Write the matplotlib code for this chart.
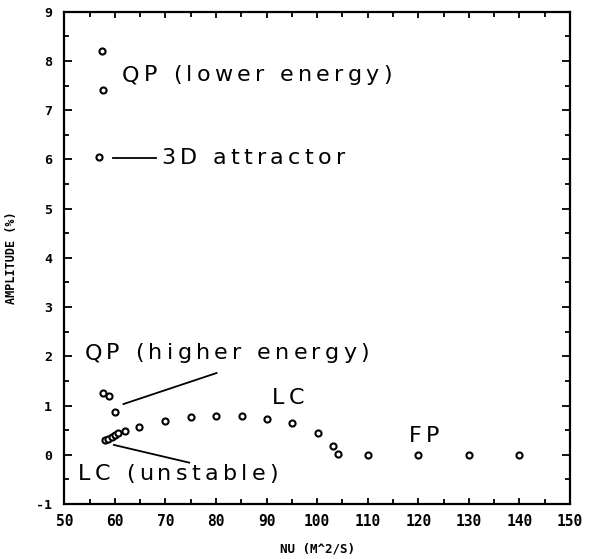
import matplotlib
matplotlib.use("Agg")
import matplotlib.pyplot as plt
from matplotlib.ticker import MultipleLocator
from matplotlib.transforms import offset_copy
from matplotlib.font_manager import FontProperties, findfont, get_font

# Quasi-periodic branch (lower energy) and the 3D attractor point
qp_low_nu = [57.4, 57.6]
qp_low_amp = [8.21, 7.41]
attr_nu = [56.9]
attr_amp = [6.05]

# Quasi-periodic branch (higher energy)
qp_high_nu = [57.7, 58.9, 60.0]
qp_high_amp = [1.25, 1.19, 0.86]

# Limit cycle branch (unstable part, then stable part)
lc_unst_nu = [58.0, 58.7, 59.4, 60.0, 60.6]
lc_unst_amp = [0.30, 0.32, 0.36, 0.40, 0.44]
lc_nu = [62.0, 64.8, 70.0, 75.0, 80.0, 85.1, 90.0, 95.0, 100.1, 103.2]
lc_amp = [0.49, 0.56, 0.68, 0.77, 0.78, 0.78, 0.73, 0.65, 0.44, 0.17]

# Fixed points
fp_nu = [104.1, 110, 120, 130, 140]
fp_amp = [0.02, 0.0, 0.0, 0.0, 0.0]

xticks = [50, 60, 70, 80, 90, 100, 110, 120, 130, 140, 150]
yticks = [-1, 0, 1, 2, 3, 4, 5, 6, 7, 8, 9]

DPI = 100
fig = plt.figure(figsize=(5.89, 5.59), dpi=DPI)
ax = fig.add_axes([0.1092, 0.0984, 0.8586, 0.8807])

mk = dict(linestyle="none", marker="o", markersize=4.4, markerfacecolor="white",
          markeredgecolor="black", markeredgewidth=1.5)
for xs, ys in [(qp_low_nu, qp_low_amp), (attr_nu, attr_amp), (qp_high_nu, qp_high_amp),
               (lc_unst_nu, lc_unst_amp), (lc_nu, lc_amp), (fp_nu, fp_amp)]:
    ax.plot(xs, ys, **mk)

ax.set_xlim(50, 150)
ax.set_ylim(-1, 9)
ax.set_xticks(xticks)
ax.set_yticks(yticks)
ax.xaxis.set_minor_locator(MultipleLocator(5))
ax.yaxis.set_minor_locator(MultipleLocator(0.5))
ax.tick_params(axis="both", which="both", direction="in", top=True, right=True,
               width=1.3, color="black")
ax.tick_params(axis="y", which="major", length=6, pad=9)
ax.tick_params(axis="y", which="minor", length=3.5)
ax.tick_params(axis="x", which="major", length=4, pad=7)
ax.tick_params(axis="x", which="minor", length=3.5)
for sp in ax.spines.values():
    sp.set_linewidth(1.6)

tick_font = dict(family="DejaVu Sans Mono", weight="bold", size=10.5)
ax.set_xticklabels([str(t) for t in xticks], fontdict=tick_font)
ax.set_yticklabels([str(t) for t in yticks], fontdict=dict(tick_font, size=9.5))

ax.set_xlabel("NU (M^2/S)", family="DejaVu Sans Mono", weight="bold", size=9, labelpad=10)
ax.set_ylabel("AMPLITUDE (%)", family="DejaVu Sans Mono", weight="bold", size=8.5, labelpad=13)

# Widely tracked plotter-style lettering: each character is placed separately
ANN_SIZE = 16
TRACK_PX = 4.3
ann_prop = FontProperties(family="DejaVu Sans", size=ANN_SIZE)
ann_font = get_font(findfont(ann_prop))
ann_font.set_size(ANN_SIZE, DPI)


def tracked_text(x, y, s):
    dx = 0.0
    for ch in s:
        if ch != " ":
            tr = offset_copy(ax.transData, fig=fig, x=dx, y=0, units="dots")
            ax.text(x, y, ch, transform=tr, fontproperties=ann_prop,
                    va="center", ha="left", color="black")
        glyph = ann_font.load_char(ord(ch))
        dx += glyph.linearHoriAdvance / 65536.0 + TRACK_PX


tracked_text(61.4, 7.71, "QP (lower energy)")
tracked_text(69.2, 6.03, "3D attractor")
tracked_text(54.0, 2.06, "QP (higher energy)")
tracked_text(52.7, -0.40, "LC (unstable)")
tracked_text(91.0, 1.16, "LC")
tracked_text(118.2, 0.38, "FP")

line = dict(color="black", linewidth=1.3)
ax.plot([59.6, 68.1], [6.03, 6.03], **line)
ax.plot([61.7, 80.1], [1.03, 1.66], **line)
ax.plot([59.8, 74.7], [0.20, -0.16], **line)

fig.savefig("out.png", dpi=DPI)
